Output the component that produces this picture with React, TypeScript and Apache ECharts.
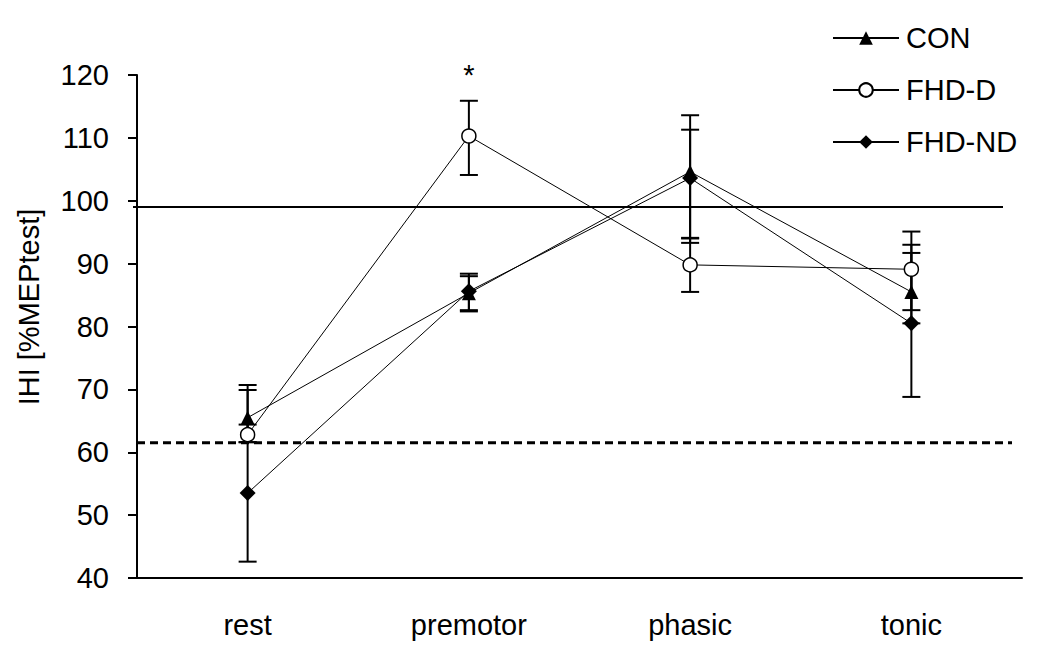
import React, { useEffect, useRef } from "react";
import * as echarts from "echarts";

const categories = ["rest", "premotor", "phasic", "tonic"];
const seriesNames = ["CON", "FHD-D", "FHD-ND"];

const conMean = [65.5, 85.3, 104.6, 85.5];
const conLow = [61.6, 82.4, 94.0, 80.5];
const conHigh = [70.7, 88.4, 113.6, 93.0];

const fhdDMean = [62.8, 110.3, 89.8, 89.1];
const fhdDLow = [61.6, 104.1, 85.5, 82.6];
const fhdDHigh = [69.9, 115.9, 94.1, 95.1];

const fhdNDMean = [53.5, 85.6, 103.6, 80.5];
const fhdNDLow = [42.6, 82.6, 93.3, 68.8];
const fhdNDHigh = [64.4, 88.0, 111.3, 91.7];

const refSolid = [99];
const refDashed = [61.5];
const starCategory = "premotor";
const starValue = 120;
const yMin = 40;
const yMax = 120;
const yStep = 10;
const yTitle = "IHI [%MEPtest]";

const FONT = "'Liberation Sans', Arial, sans-serif";

function errData(low: number[], high: number[]) {
  return low.map((l, i) => [i, l, high[i]]);
}

function errRender(params: any, api: any) {
  const pl = api.coord([api.value(0), api.value(1)]);
  const ph = api.coord([api.value(0), api.value(2)]);
  const hw = 9;
  const st = { stroke: "#000", lineWidth: 2 };
  return {
    type: "group",
    children: [
      { type: "line", shape: { x1: pl[0], y1: pl[1], x2: ph[0], y2: ph[1] }, style: st },
      { type: "line", shape: { x1: pl[0] - hw, y1: pl[1], x2: pl[0] + hw, y2: pl[1] }, style: st },
      { type: "line", shape: { x1: ph[0] - hw, y1: ph[1], x2: ph[0] + hw, y2: ph[1] }, style: st },
    ],
  };
}

function refRender(x1: number, x2: number, dashed: boolean) {
  return (params: any, api: any) => {
    const p = api.coord([0, api.value(0)]);
    return {
      type: "line",
      shape: { x1, y1: p[1], x2, y2: p[1] },
      style: dashed
        ? { stroke: "#000", lineWidth: 3, lineDash: [8, 5] }
        : { stroke: "#000", lineWidth: 2 },
    };
  };
}

export default function App() {
  const ref = useRef<HTMLDivElement>(null);
  useEffect(() => {
    if (!ref.current) return;
    const chart = echarts.init(ref.current, null, { renderer: "svg" });
    const lineCommon = {
      type: "line",
      color: "#000",
      lineStyle: { color: "#000", width: 1 },
      z: 5,
    };
    chart.setOption({
      animation: false,
      backgroundColor: "#fff",
      grid: { left: 137, right: 28, top: 75, bottom: 77, containLabel: false },
      legend: {
        orient: "vertical",
        left: 827,
        top: 18,
        itemWidth: 66,
        itemHeight: 17,
        itemGap: 22,
        data: seriesNames,
        lineStyle: { width: 2 },
        textStyle: { fontFamily: FONT, fontSize: 29, color: "#000", lineHeight: 30, padding: [0, 0, 0, 2] },
      },
      xAxis: {
        type: "category",
        data: categories,
        boundaryGap: true,
        axisLine: { lineStyle: { color: "#000", width: 2 } },
        axisTick: { show: false },
        axisLabel: { color: "#000", fontFamily: FONT, fontSize: 29, margin: 32 },
        splitLine: { show: false },
      },
      yAxis: {
        type: "value",
        min: yMin,
        max: yMax,
        interval: yStep,
        axisLine: { show: true, lineStyle: { color: "#000", width: 2 } },
        axisTick: { show: true, inside: false, length: 9, lineStyle: { color: "#000", width: 2 } },
        axisLabel: { color: "#000", fontFamily: FONT, fontSize: 29, margin: 28 },
        splitLine: { show: false },
      },
      graphic: [
        {
          type: "text",
          x: 29,
          y: 307,
          rotation: Math.PI / 2,
          style: {
            text: yTitle,
            fill: "#000",
            font: `29px ${FONT}`,
            textAlign: "center",
            textVerticalAlign: "middle",
          },
        },
      ],
      series: [
        {
          type: "custom",
          name: "refSolid",
          data: refSolid.map((v) => [v]),
          renderItem: refRender(133, 1003, false),
          encode: { y: 0 },
          z: 1,
          silent: true,
        },
        {
          type: "custom",
          name: "refDashed",
          data: refDashed.map((v) => [v]),
          renderItem: refRender(137, 1012, true),
          encode: { y: 0 },
          z: 1,
          silent: true,
        },
        {
          type: "custom",
          name: "CON-err",
          data: errData(conLow, conHigh),
          renderItem: errRender,
          encode: { x: 0, y: [1, 2] },
          z: 2,
          silent: true,
        },
        {
          type: "custom",
          name: "FHD-D-err",
          data: errData(fhdDLow, fhdDHigh),
          renderItem: errRender,
          encode: { x: 0, y: [1, 2] },
          z: 2,
          silent: true,
        },
        {
          type: "custom",
          name: "FHD-ND-err",
          data: errData(fhdNDLow, fhdNDHigh),
          renderItem: errRender,
          encode: { x: 0, y: [1, 2] },
          z: 2,
          silent: true,
        },
        {
          ...lineCommon,
          name: "CON",
          data: conMean,
          symbol: "triangle",
          symbolSize: 14,
          itemStyle: { color: "#000" },
        },
        {
          ...lineCommon,
          name: "FHD-D",
          data: fhdDMean,
          symbol: "circle",
          symbolSize: 14,
          itemStyle: { color: "#fff", borderColor: "#000", borderWidth: 1.5 },
          markPoint: {
            symbol: "circle",
            symbolSize: 0,
            silent: true,
            data: [{ coord: [starCategory, starValue] }],
            label: {
              show: true,
              position: "inside",
              formatter: "*",
              color: "#000",
              fontFamily: FONT,
              fontSize: 29,
            },
          },
        },
        {
          ...lineCommon,
          name: "FHD-ND",
          data: fhdNDMean,
          symbol: "diamond",
          symbolSize: 16,
          itemStyle: { color: "#000" },
        },
      ],
    });
    return () => chart.dispose();
  }, []);
  return (
    <div
      ref={ref}
      style={{ position: "fixed", left: 0, top: 0, width: 1050, height: 655, background: "#fff" }}
    />
  );
}
